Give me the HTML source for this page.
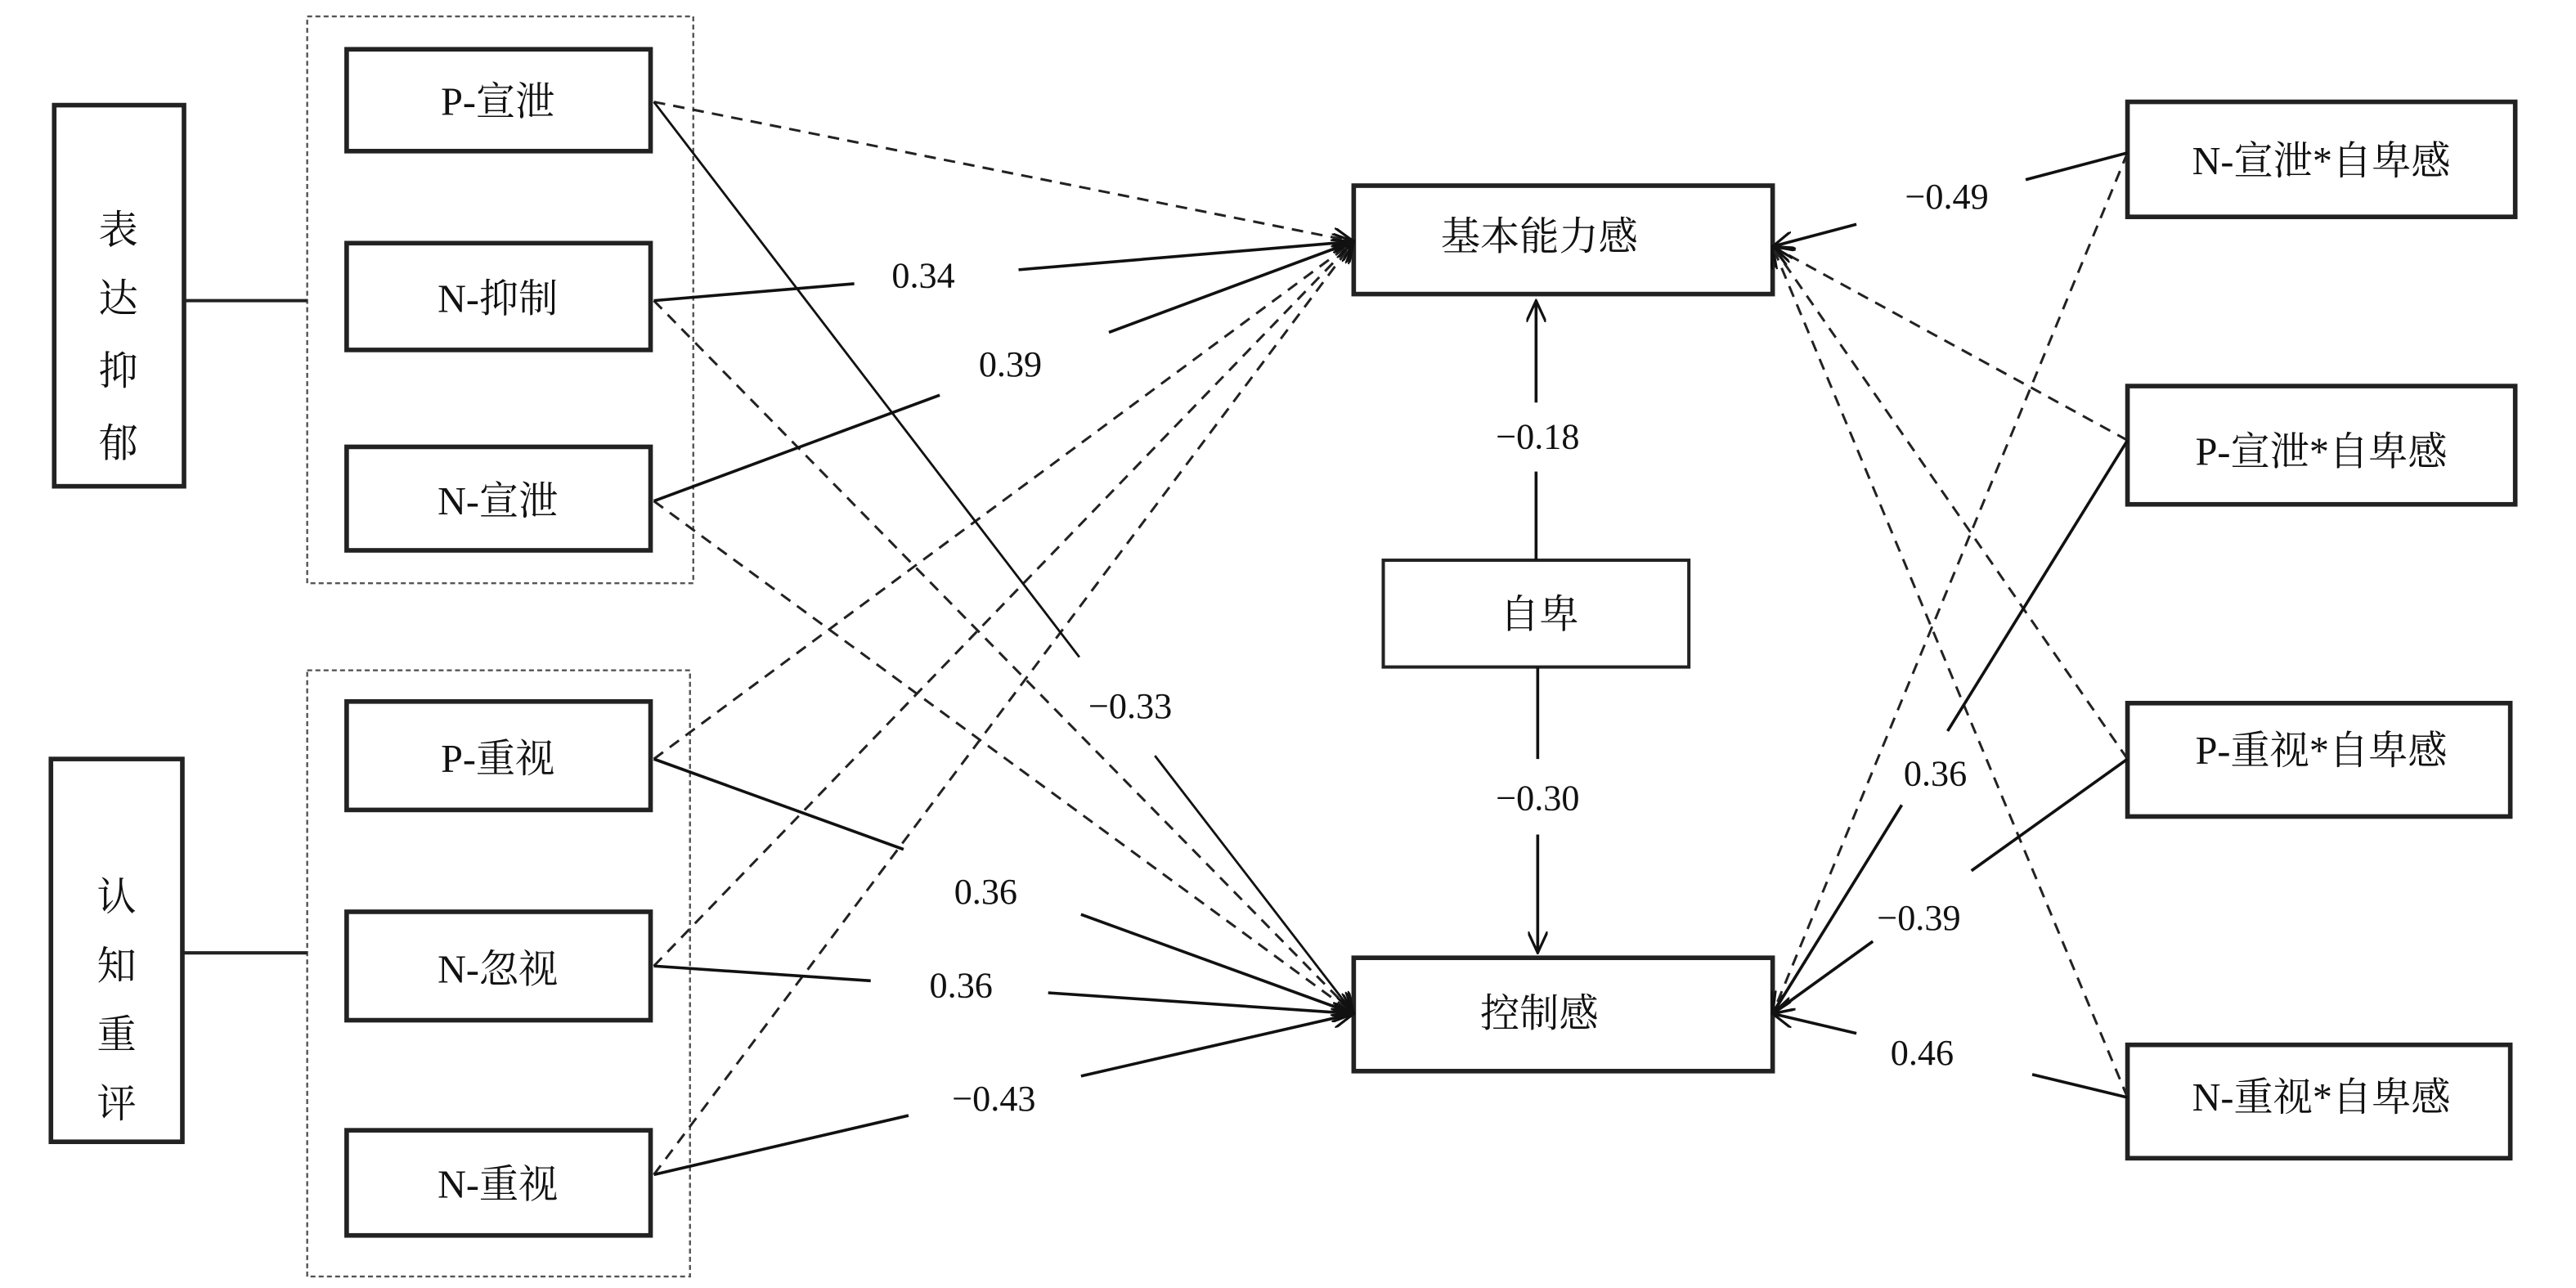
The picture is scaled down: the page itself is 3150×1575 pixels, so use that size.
<!DOCTYPE html>
<html><head><meta charset="utf-8"><style>
html,body{margin:0;padding:0;background:#fff;}
svg{display:block;}
text{font-family:"Liberation Serif","Noto Serif CJK SC",serif;fill:#111;}
</style></head><body>
<svg width="3150" height="1575" viewBox="0 0 1568 784" preserveAspectRatio="none" xmlns="http://www.w3.org/2000/svg">
<defs>
<marker id="a" viewBox="0 0 14 12" refX="13" refY="6" markerWidth="14" markerHeight="12" markerUnits="userSpaceOnUse" orient="auto">
<path d="M0,0 L13,6 L0,12" fill="none" stroke="#111" stroke-width="1.6"/>
</marker>
</defs>
<g fill="#fff" stroke="#222" stroke-width="2.8">
<rect x="33" y="64" width="79" height="232"/>
<rect x="31" y="462" width="80" height="233"/>
<rect x="211" y="30" width="185" height="62"/>
<rect x="211" y="148" width="185" height="65"/>
<rect x="211" y="272" width="185" height="63"/>
<rect x="211" y="427" width="185" height="66"/>
<rect x="211" y="555" width="185" height="66"/>
<rect x="211" y="688" width="185" height="64"/>
<rect x="824" y="113" width="255" height="66"/>
<rect x="842" y="341" width="186" height="65" stroke-width="2"/>
<rect x="824" y="583" width="255" height="69"/>
<rect x="1295" y="62" width="236" height="70"/>
<rect x="1295" y="235" width="236" height="72"/>
<rect x="1295" y="428" width="233" height="69"/>
<rect x="1295" y="636" width="233" height="69"/>
</g>
<g fill="none" stroke="#555" stroke-width="1.2" stroke-dasharray="3,2">
<rect x="187" y="10" width="235" height="345"/>
<rect x="187" y="408" width="233" height="369"/>
</g>
<g stroke="#222" stroke-width="2">
<line x1="112" y1="183" x2="187" y2="183"/>
<line x1="111" y1="580" x2="187" y2="580"/>
</g>
<g fill="none" stroke="#222" stroke-width="1.5" stroke-dasharray="7,5" marker-end="url(#a)">
<line x1="398" y1="62" x2="824" y2="147"/>
<line x1="398" y1="183" x2="824" y2="617"/>
<line x1="398" y1="305" x2="824" y2="617"/>
<line x1="398" y1="462" x2="824" y2="147"/>
<line x1="398" y1="588" x2="824" y2="147"/>
<line x1="398" y1="715" x2="824" y2="147"/>
<line x1="1295" y1="93" x2="1079" y2="617"/>
<line x1="1295" y1="268" x2="1079" y2="150"/>
<line x1="1295" y1="462" x2="1079" y2="150"/>
<line x1="1295" y1="668" x2="1079" y2="150"/>
</g>
<g fill="none" stroke="#111" stroke-width="1.8">
<line x1="398" y1="183" x2="520" y2="172.7"/>
<line x1="620" y1="164.2" x2="824" y2="147" marker-end="url(#a)"/>
<line x1="398" y1="305" x2="572" y2="240.5"/>
<line x1="675" y1="202.3" x2="824" y2="147" marker-end="url(#a)"/>
<line x1="398" y1="62" x2="657" y2="400" stroke-width="1.4"/>
<line x1="703" y1="460" x2="824" y2="617" stroke-width="1.4" marker-end="url(#a)"/>
<line x1="398" y1="462" x2="550" y2="517"/>
<line x1="658" y1="556.6" x2="824" y2="617" marker-end="url(#a)"/>
<line x1="398" y1="588" x2="530" y2="597"/>
<line x1="638" y1="604.3" x2="824" y2="617" marker-end="url(#a)"/>
<line x1="398" y1="715" x2="553" y2="679"/>
<line x1="658" y1="655" x2="824" y2="617" marker-end="url(#a)"/>
<line x1="1295" y1="93" x2="1233" y2="109.4"/>
<line x1="1130" y1="136.5" x2="1079" y2="150" marker-end="url(#a)"/>
<line x1="1295" y1="268" x2="1185.5" y2="445"/>
<line x1="1157.6" y1="490" x2="1079" y2="617" marker-end="url(#a)"/>
<line x1="1295" y1="462" x2="1200" y2="530"/>
<line x1="1140" y1="573" x2="1079" y2="617" marker-end="url(#a)"/>
<line x1="1295" y1="668" x2="1237" y2="654"/>
<line x1="1130" y1="629" x2="1079" y2="617" marker-end="url(#a)"/>
<line x1="935" y1="341" x2="935" y2="287"/>
<line x1="935" y1="245" x2="935" y2="183" marker-end="url(#a)"/>
<line x1="936" y1="406" x2="936" y2="462"/>
<line x1="936" y1="508" x2="936" y2="580" marker-end="url(#a)"/>
</g>
<g font-size="24" text-anchor="middle">
<text x="72" y="148">表</text><text x="72" y="190">达</text><text x="72" y="234">抑</text><text x="72" y="278">郁</text>
<text x="71" y="554">认</text><text x="71" y="596">知</text><text x="71" y="638">重</text><text x="71" y="680">评</text>
<text x="303" y="70">P-宣泄</text>
<text x="303" y="190">N-抑制</text>
<text x="303" y="313">N-宣泄</text>
<text x="303" y="470">P-重视</text>
<text x="303" y="598">N-忽视</text>
<text x="303" y="729">N-重视</text>
<text x="937" y="152">基本能力感</text>
<text x="937" y="382">自卑</text>
<text x="937" y="625">控制感</text>
<text x="1413" y="106">N-宣泄*自卑感</text>
<text x="1413" y="283">P-宣泄*自卑感</text>
<text x="1413" y="465">P-重视*自卑感</text>
<text x="1413" y="676">N-重视*自卑感</text>
</g>
<g font-size="22" text-anchor="middle">
<text x="562" y="175">0.34</text>
<text x="615" y="229">0.39</text>
<text x="688" y="437">−0.33</text>
<text x="600" y="550">0.36</text>
<text x="585" y="607">0.36</text>
<text x="605" y="676">−0.43</text>
<text x="936" y="273">−0.18</text>
<text x="936" y="493">−0.30</text>
<text x="1185" y="127">−0.49</text>
<text x="1178" y="478">0.36</text>
<text x="1168" y="566">−0.39</text>
<text x="1170" y="648">0.46</text>
</g>
</svg>
</body></html>
